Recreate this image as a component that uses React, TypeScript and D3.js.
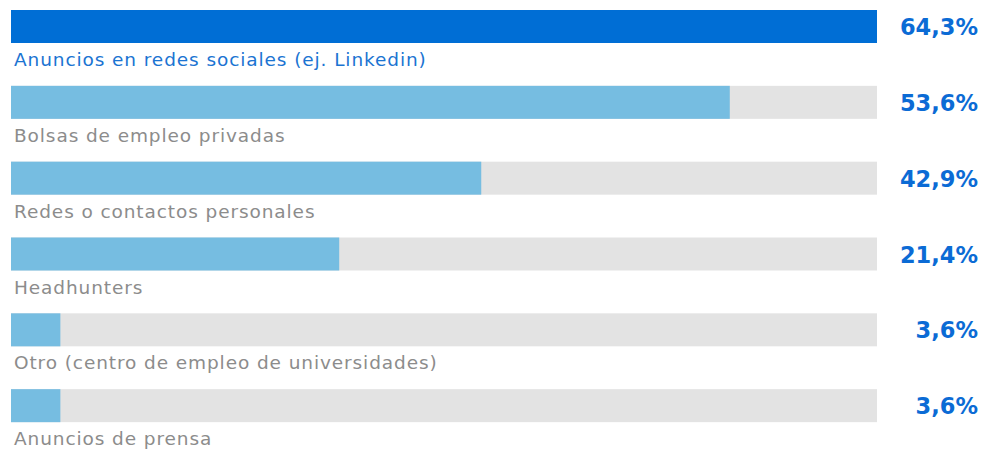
import React from "react";
import * as d3 from "d3";

const categories = [
  "Anuncios en redes sociales (ej. Linkedin)",
  "Bolsas de empleo privadas",
  "Redes o contactos personales",
  "Headhunters",
  "Otro (centro de empleo de universidades)",
  "Anuncios de prensa",
];
const valueLabels = ["64,3%", "53,6%", "42,9%", "21,4%", "3,6%", "3,6%"];
// bar fill as drawn in the picture (share of track, %)
const barShare = [100, 83.0, 54.3, 37.9, 5.7, 5.7];

const W = 995;
const H = 454;

export default function App() {
  const x = d3.scaleLinear().domain([0, 100]).range([11, 877]);
  const y = d3
    .scaleBand<number>()
    .domain(d3.range(categories.length))
    .range([10, 465])
    .paddingInner(0)
    .paddingOuter(0);
  const barH = 33;
  const font = "'DejaVu Sans', sans-serif";
  return (
    <svg
      width={W}
      height={H}
      style={{ position: "absolute", left: 0, top: 0, background: "#fff" }}
    >
      {categories.map((c, i) => {
        const top = y(i)!;
        const first = i === 0;
        return (
          <g key={c}>
            <rect x={x(0)} y={top} width={x(100) - x(0)} height={barH} fill="#e3e3e3" />
            <rect
              x={x(0)}
              y={top}
              width={x(barShare[i]) - x(0)}
              height={barH}
              fill={first ? "#006ed5" : "#76bde1"}
            />
            <text
              x={14}
              y={top + barH + 23}
              fontFamily={font}
              fontSize={18.5}
              letterSpacing={0.9}
              fill={first ? "#1b74d2" : "#8c8c8c"}
            >
              {c}
            </text>
            <text
              x={978}
              y={top + barH / 2 + 8.5}
              textAnchor="end"
              fontFamily={font}
              fontWeight={700}
              fontSize={22.5}
              fill="#0b6bd5"
            >
              {valueLabels[i]}
            </text>
          </g>
        );
      })}
    </svg>
  );
}
